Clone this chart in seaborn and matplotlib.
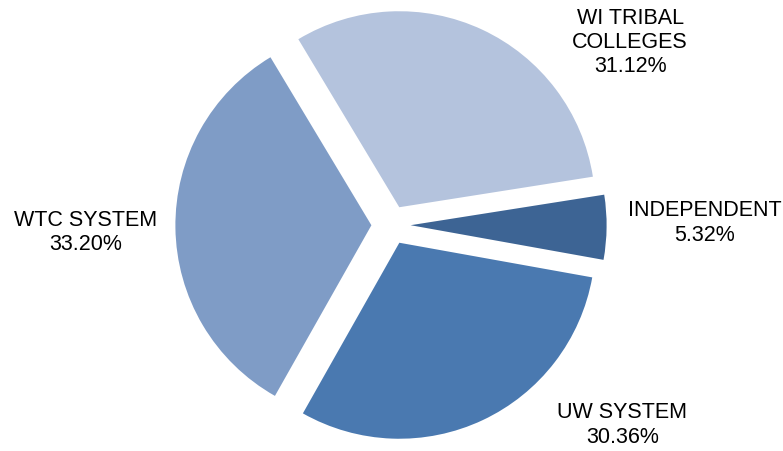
import matplotlib
matplotlib.use("Agg")
import matplotlib.pyplot as plt
import seaborn as sns

# data
categories = ["WI TRIBAL\nCOLLEGES", "INDEPENDENT", "UW SYSTEM", "WTC SYSTEM"]
shares = [31.12, 5.32, 30.36, 33.20]
colors = ["#B4C3DD", "#3D6494", "#4A79B0", "#7F9CC6"]

# label placement (radius units, pie centre at 0,0)
label_pos = [(1.22, 0.93), (1.60, 0.01), (1.18, -1.02), (-1.56, -0.04)]

sns.set_theme(style="white")
plt.rcParams["font.family"] = ["Liberation Sans", "DejaVu Sans"]

fig = plt.figure(figsize=(7.83, 4.51), dpi=100)
ax = fig.add_axes([0, 0, 1, 1])

wedges, _ = ax.pie(shares, colors=colors, startangle=121, counterclock=False,
                   explode=[0.1] * len(shares), radius=1.0,
                   wedgeprops=dict(linewidth=0))

for (x, y), name, val in zip(label_pos, categories, shares):
    ax.text(x, y, f"{name}\n{val:.2f}%", ha="center", va="center",
            fontsize=15.5, color="black", linespacing=1.2)

ax.set_aspect("equal")
ax.set_xlim(-391 / 196, (783 - 391) / 196)
ax.set_ylim(-(451 - 225) / 196, 225 / 196)
ax.axis("off")

fig.savefig("out.png", dpi=100, facecolor="white")
